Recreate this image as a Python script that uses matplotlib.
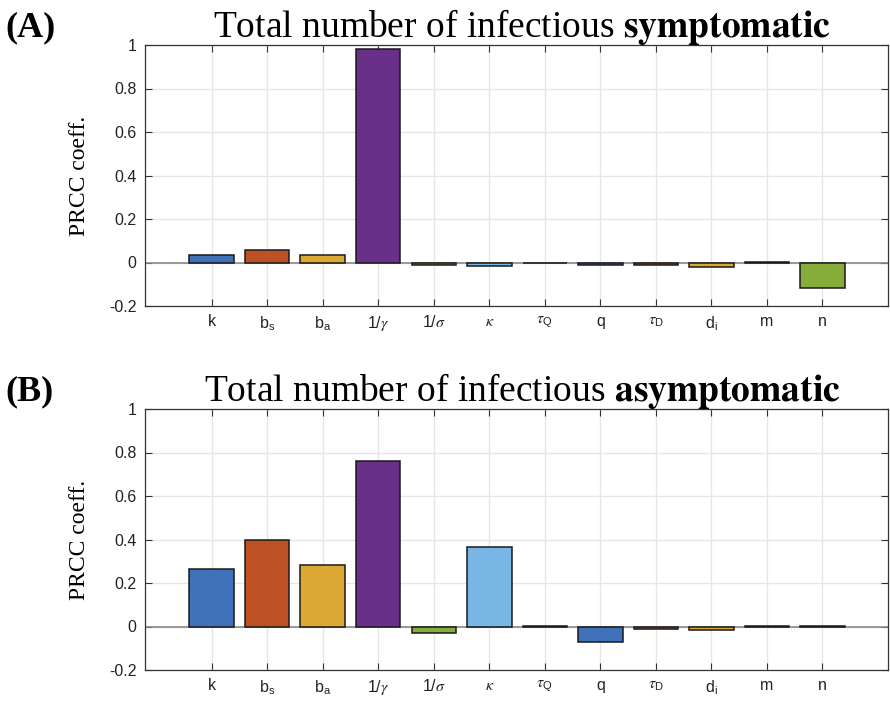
import numpy as np
import matplotlib
matplotlib.use("Agg")
import matplotlib.pyplot as plt

plt.rcParams['font.family'] = ['Liberation Sans', 'DejaVu Sans']
plt.rcParams['mathtext.fontset'] = 'stix'

params = [r'k', r'$\mathregular{b_s}$', r'$\mathregular{b_a}$', r'1/$\gamma$', r'1/$\sigma$',
          r'$\kappa$', r'$\tau_\mathregular{Q}$', r'q', r'$\tau_\mathregular{D}$',
          r'$\mathregular{d_i}$', r'm', r'n']

# PRCC coefficients per parameter
prcc_symp = [0.035, 0.057, 0.035, 0.980, -0.011, -0.015, -0.003, -0.013, -0.013, -0.020, 0.002, -0.115]
prcc_asymp = [0.266, 0.399, 0.284, 0.761, -0.028, 0.367, 0.001, -0.070, -0.011, -0.018, 0.003, 0.004]

titles = ['symptomatic', 'asymptomatic']
panels = ['(A)', '(B)']

colors = ['#3f72b9', '#bd5124', '#dba934', '#69308a', '#86ac3a', '#78b6e6', '#9b2036']

fig = plt.figure(figsize=(8.9, 7.01), dpi=100)
W, H = 890.0, 701.0
boxes = [(145, 45, 888, 306), (145, 409, 888, 670)]

x = np.arange(1, len(params) + 1)
bar_colors = [colors[i % len(colors)] for i in range(len(params))]

for data, word, lab, (l, t, r, b) in zip([prcc_symp, prcc_asymp], titles, panels, boxes):
    ax = fig.add_axes([l / W, 1 - b / H, (r - l) / W, (b - t) / H])
    ax.set_axisbelow(True)
    ax.grid(True, color='#e6e6e6', lw=1)
    ax.axhline(0, color='#8a8a8a', lw=1.2, zorder=1.5)
    ax.bar(x, data, width=0.8, color=bar_colors, edgecolor='#1a1a1a', lw=1.1, zorder=2)
    ax.set_xlim(-0.2, 13.18)
    ax.set_ylim(-0.2, 1)
    ax.set_xticks(x)
    ax.set_xticklabels(params, fontsize=11.5)
    ax.set_yticks([-0.2, 0, 0.2, 0.4, 0.6, 0.8, 1])
    ax.set_yticklabels(['-0.2', '0', '0.2', '0.4', '0.6', '0.8', '1'], fontsize=11.5)
    ax.tick_params(direction='in', top=True, right=True, length=5, width=0.8,
                   color='#333333', labelcolor='#222222', pad=6)
    for s in ax.spines.values():
        s.set_color('#333333')
        s.set_linewidth(0.9)
    ax.set_ylabel('PRCC coeff.', family='Liberation Serif', fontsize=17, labelpad=14)
    ax.set_title('Total number of infectious $\\mathbf{' + word + '}$',
                 family='Liberation Serif', fontsize=27, pad=6, x=0.508)
    fig.text(5 / W, 1 - (t - 9) / H, lab, family='Liberation Serif', weight='bold',
             fontsize=26, va='baseline', ha='left')

fig.savefig('out.png', dpi=100)
